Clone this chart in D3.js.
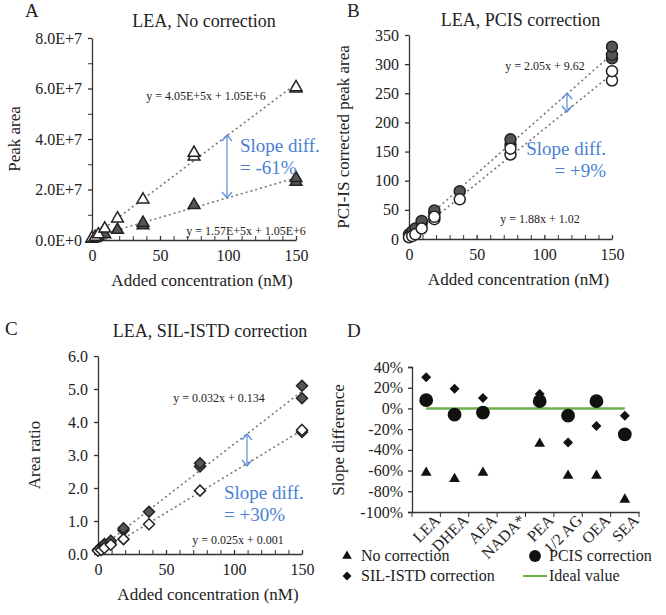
<!DOCTYPE html><html><head><meta charset="utf-8"><script src="https://cdn.jsdelivr.net/npm/d3@7"></script>
<style>body{margin:0;background:#fff}</style></head><body>
<svg id="c" width="666" height="615" font-family="Liberation Serif"></svg>
<script>
const conc=[0,2.34,4.69,9.38,18.75,37.5,75,150];
// Panel A (peak area, x1e7)
const aOpenX=[0,2.34,4.69,9.38,18.75,37.5,75,75,150,150];
const aOpenY=[0.08,0.12,0.22,0.45,0.85,1.6,3.3,3.45,6.0,6.05];
const aFillX=[0,2.34,4.69,9.38,18.75,37.5,37.5,75,150,150];
const aFillY=[0.05,0.08,0.12,0.22,0.4,0.58,0.68,1.38,2.3,2.45];
const aTicksY=["0.0E+0","2.0E+7","4.0E+7","6.0E+7","8.0E+7"];
// Panel B
const bFillX=[0,2.34,4.69,9.38,9.38,18.75,18.75,37.5,75,75,150,150,150];
const bFillY=[8,13,18,27,31,44,49,82,162,171,310,316,330];
const bOpenX=[0,2.34,4.69,9.38,18.75,18.75,37.5,75,75,150,150];
const bOpenY=[3,5,8,18,34,38,68,145,155,272,288];
// Panel C
const cFillX=[0,2.34,4.69,9.38,18.75,18.75,37.5,75,75,150,150];
const cFillY=[0.13,0.2,0.3,0.4,0.72,0.78,1.28,2.65,2.75,4.72,5.1];
const cOpenX=[0,2.34,4.69,9.38,18.75,37.5,75,150,150];
const cOpenY=[0.1,0.12,0.18,0.28,0.45,0.9,1.92,3.7,3.76];
// Panel D
const cats=["LEA","DHEA","AEA","NADA*","PEA","1/2 AG","OEA","SEA"];
const noCorr=[-62,-68,-62,null,-34,-65,-65,-88];
const pcis=[8,-6,-4,null,7,-7,7,-25];
const sil=[30,19,10,null,14,-33,-17,-7];

const svg=d3.select("#c");
const tri=d3.symbol().type(d3.symbolTriangle).size(60);
const diaPath=r=>`M0,${-r}L${r},0L0,${r}L${-r},0Z`;

function panel(o){
  const g=svg.append("g");
  const x=d3.scaleLinear().domain([0,150]).range([o.x0,o.x1]);
  const y=d3.scaleLinear().domain(o.yd).range([o.y0,o.y1]);
  g.append("g").attr("transform",`translate(0,${o.y0})`).call(d3.axisBottom(x).tickValues([0,50,100,150]).tickSize(-4).tickSizeOuter(0).tickPadding(10))
   .call(a=>a.selectAll("text").attr("font-size",16));
  g.append("g").attr("transform",`translate(${o.x0},0)`).call(d3.axisLeft(y).tickValues(o.yt).tickFormat((d,i)=>o.ytl?o.ytl[i]:d3.format(o.fmt)(d)).tickSize(4).tickSizeOuter(0).tickPadding(6))
   .call(a=>a.selectAll("text").attr("font-size",16));
  g.selectAll(".domain,.tick line").attr("stroke","#333").attr("stroke-width",1.3);
  g.append("g").attr("transform",`translate(${o.x0},0)`).call(d3.axisLeft(y).tickValues(o.ym).tickFormat("").tickSize(4)).call(a=>{a.select(".domain").remove();a.selectAll("line").attr("stroke","#333")});
  g.append("g").attr("transform",`translate(0,${o.y0})`).call(d3.axisBottom(x).tickValues(d3.range(10,150,10).filter(v=>v%50)).tickFormat("").tickSize(-4)).call(a=>{a.select(".domain").remove();a.selectAll("line").attr("stroke","#333")});
  g.append("text").attr("x",(o.x0+o.x1)/2+8).attr("y",o.y0+46).attr("text-anchor","middle").attr("font-size",17).text("Added concentration (nM)");
  g.append("text").attr("transform",`translate(${o.ylx},${(o.y0+o.y1)/2}) rotate(-90)`).attr("text-anchor","middle").attr("font-size",17).text(o.ylab);
  g.append("text").attr("x",(o.x0+o.x1)/2+10).attr("y",o.ty).attr("text-anchor","middle").attr("font-size",18).text(o.title);
  g.append("text").attr("x",o.lx).attr("y",o.ly).attr("font-size",19).text(o.letter);
  o.fits.forEach(f=>g.append("line").attr("x1",x(f[0])).attr("y1",y(f[1])).attr("x2",x(150)).attr("y2",y(f[2])).attr("stroke","#777").attr("stroke-width",1.6).attr("stroke-dasharray","2,3"));
  return {g,x,y};
}
function pts(p,X,Y,kind,fill){
  p.g.selectAll(null).data(X).enter().append("path")
   .attr("transform",(d,i)=>`translate(${p.x(d)},${p.y(Y[i])})`)
   .attr("d",kind==="c"?d3.symbol().type(d3.symbolCircle).size(95)():kind==="t"?tri():diaPath(5.5))
   .attr("fill",fill).attr("stroke","#222").attr("stroke-width",1.5);
}
function arrow(g,x,y1,y2){
  g.append("line").attr("x1",x).attr("x2",x).attr("y1",y1).attr("y2",y2).attr("stroke","#5b8dd6").attr("stroke-width",1.2);
  [[y1,1],[y2,-1]].forEach(([yy,s])=>g.append("path").attr("d",`M${x-5},${yy+6*s}L${x},${yy}L${x+5},${yy+6*s}`).attr("fill","none").attr("stroke","#5b8dd6").attr("stroke-width",1.2));
}
function blue(g,x,y,lines,anchor){lines.forEach((l,i)=>g.append("text").attr("x",x).attr("y",y+i*22).attr("text-anchor",anchor||"start").attr("font-size",19).attr("fill","#4a7fd4").text(l));}
function eq(g,x,y,t){g.append("text").attr("x",x).attr("y",y).attr("font-size",12).attr("text-anchor","middle").text(t);}

const A=panel({x0:92,x1:296,y0:240,y1:38,yd:[0,8],yt:[0,2,4,6,8],ytl:aTicksY,ym:[1,3,5,7],ylx:20,ylab:"Peak area",title:"LEA, No correction",ty:27,letter:"A",lx:25,ly:17,fits:[[0,0.105,6.18],[0,0.105,2.46]]});
pts(A,aFillX,aFillY,"t","#555");pts(A,aOpenX,aOpenY,"t","#fff");
eq(A.g,206,100,"y = 4.05E+5x + 1.05E+6");eq(A.g,246,235,"y = 1.57E+5x + 1.05E+6");
arrow(A.g,227,135,198);blue(A.g,240,152,["Slope diff.","= -61%"]);
const B=panel({x0:409,x1:612,y0:239,y1:35,yd:[0,350],yt:[0,50,100,150,200,250,300,350],fmt:"d",ym:[],ylx:349,ylab:"PCI-IS corrected peak area",title:"LEA, PCIS correction",ty:26,letter:"B",lx:347,ly:17,fits:[[0,9.62,317],[0,1.02,283]]});
pts(B,bFillX,bFillY,"c","#555");pts(B,bOpenX,bOpenY,"c","#fff");
eq(B.g,545,70,"y = 2.05x + 9.62");eq(B.g,540,223,"y = 1.88x + 1.02");
arrow(B.g,567,93,112);blue(B.g,606,155,["Slope diff.","= +9%"],"end");
const C=panel({x0:98,x1:302,y0:554,y1:356,yd:[0,6],yt:[0,1,2,3,4,5,6],fmt:".1f",ym:[],ylx:40,ylab:"Area ratio",title:"LEA, SIL-ISTD correction",ty:337,letter:"C",lx:5,ly:335,fits:[[0,0.134,4.93],[0,0.001,3.75]]});
pts(C,cFillX,cFillY,"d","#555");pts(C,cOpenX,cOpenY,"d","#fff");
eq(C.g,219,402,"y = 0.032x + 0.134");eq(C.g,238,544,"y = 0.025x + 0.001");
arrow(C.g,247,434,466);blue(C.g,224,499,["Slope diff.","= +30%"]);
(function(){
  const g=svg.append("g");
  const x=d3.scaleBand().domain(cats).range([412,639]);
  const y=d3.scaleLinear().domain([-100,40]).range([512,367]);
  g.append("g").attr("transform","translate(0,512)").call(d3.axisBottom(x).tickSize(0).tickPadding(8))
   .call(a=>{a.selectAll("text").attr("font-size",16).attr("text-anchor","end").attr("transform","rotate(-45) translate(4,-2)");});
  g.append("g").attr("transform","translate(0,512)").selectAll("line").data(d3.range(9)).enter().append("line")
   .attr("x1",i=>412+i*x.bandwidth()).attr("x2",i=>412+i*x.bandwidth()).attr("y1",0).attr("y2",5).attr("stroke","#333");
  g.append("g").attr("transform","translate(412,0)").call(d3.axisLeft(y).tickValues(d3.range(-100,41,20)).tickFormat(d=>d+"%").tickSize(4).tickPadding(5))
   .call(a=>a.selectAll("text").attr("font-size",16));
  g.selectAll(".domain,.tick line").attr("stroke","#333").attr("stroke-width",1.3);
  g.append("text").attr("transform","translate(344,440) rotate(-90)").attr("text-anchor","middle").attr("font-size",17).text("Slope difference");
  g.append("text").attr("x",347).attr("y",337).attr("font-size",19).text("D");
  const cx=d=>x(d)+x.bandwidth()/2;
  g.append("line").attr("x1",cx("LEA")).attr("x2",cx("SEA")).attr("y1",y(0)).attr("y2",y(0)).attr("stroke","#6ab04c").attr("stroke-width",2.5);
  const draw=(vals,sym)=>g.selectAll(null).data(cats.map((c,i)=>[c,vals[i]]).filter(d=>d[1]!=null)).enter().append("path")
    .attr("transform",d=>`translate(${cx(d[0])},${y(d[1])})`).attr("d",sym).attr("fill","#111");
  draw(noCorr,d3.symbol().type(d3.symbolTriangle).size(50)());
  draw(sil,diaPath(5));
  draw(pcis,d3.symbol().type(d3.symbolCircle).size(150)());
  const L=[[347,556,"t","No correction"],[535,556,"c","PCIS correction"],[347,576,"d","SIL-ISTD correction"],[535,576,"g","Ideal value"]];
  L.forEach(([lx,ly,k,t])=>{
    if(k==="g")g.append("line").attr("x1",lx-12).attr("x2",lx+12).attr("y1",ly).attr("y2",ly).attr("stroke","#6ab04c").attr("stroke-width",2);
    else g.append("path").attr("transform",`translate(${lx},${ly})`).attr("d",k==="d"?diaPath(4.5):d3.symbol().type(k==="t"?d3.symbolTriangle:d3.symbolCircle).size(k==="c"?110:40)()).attr("fill","#111");
    g.append("text").attr("x",lx+14).attr("y",ly+5).attr("font-size",16).text(t);
  });
})();
svg.selectAll("g").attr("font-family","Liberation Serif");
svg.selectAll("text").attr("font-family","Liberation Serif").filter(function(){return !this.getAttribute("fill")||this.getAttribute("fill")==="currentColor"}).attr("fill","#222");
</script></body></html>
